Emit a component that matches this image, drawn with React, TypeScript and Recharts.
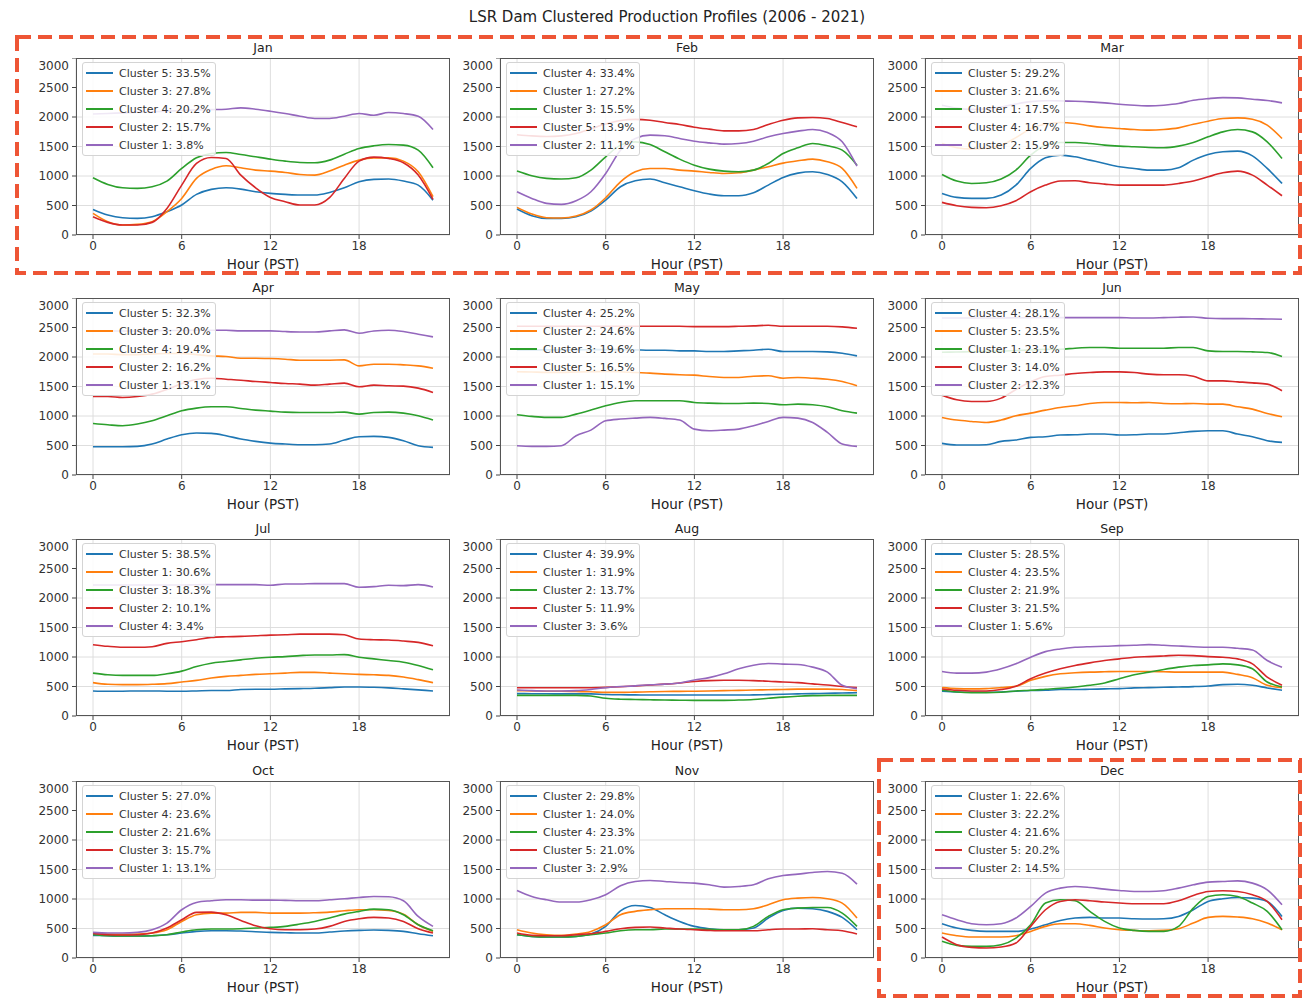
import React from 'react';
import { LineChart, Line, XAxis, YAxis, CartesianGrid } from 'recharts';

const hours = [0, 1, 2, 3, 4, 5, 6, 7, 8, 9, 10, 11, 12, 13, 14, 15, 16, 17, 18, 19, 20, 21, 22, 23];
const xTicks = [0, 6, 12, 18];
const yTicks = [0, 500, 1000, 1500, 2000, 2500, 3000];
const colors = ['#1f77b4', '#ff7f0e', '#2ca02c', '#d62728', '#9467bd'];

const janLabels = ['Cluster 5: 33.5%', 'Cluster 3: 27.8%', 'Cluster 4: 20.2%', 'Cluster 2: 15.7%', 'Cluster 1: 3.8%'];
const janSeries = [
  [434, 340, 293, 282, 310, 395, 508, 688, 773, 800, 778, 733, 705, 688, 677, 677, 722, 800, 902, 942, 948, 914, 846, 590],
  [367, 226, 169, 180, 226, 395, 620, 959, 1111, 1173, 1139, 1100, 1083, 1060, 1026, 1015, 1083, 1184, 1269, 1308, 1308, 1252, 1072, 649],
  [970, 857, 800, 790, 818, 914, 1128, 1308, 1382, 1399, 1365, 1325, 1286, 1252, 1229, 1224, 1269, 1370, 1466, 1512, 1534, 1523, 1438, 1139],
  [310, 214, 169, 169, 214, 451, 846, 1213, 1314, 1297, 1015, 800, 637, 564, 508, 508, 632, 959, 1252, 1320, 1297, 1224, 1015, 603],
  [2050, 2060, 2070, 2080, 2090, 2100, 2110, 2120, 2125, 2132, 2155, 2132, 2098, 2059, 2014, 1974, 1974, 2014, 2059, 2030, 2076, 2059, 2014, 1788],
];

const febLabels = ['Cluster 4: 33.4%', 'Cluster 1: 27.2%', 'Cluster 3: 15.5%', 'Cluster 5: 13.9%', 'Cluster 2: 11.1%'];
const febSeries = [
  [440, 327, 282, 282, 310, 406, 592, 818, 919, 948, 885, 818, 750, 694, 665, 665, 716, 846, 976, 1049, 1072, 1026, 902, 620],
  [468, 355, 293, 288, 321, 423, 632, 902, 1072, 1128, 1128, 1100, 1083, 1060, 1043, 1054, 1100, 1156, 1218, 1258, 1286, 1241, 1128, 790],
  [1083, 1004, 959, 948, 970, 1100, 1325, 1523, 1579, 1534, 1410, 1286, 1184, 1117, 1083, 1072, 1100, 1213, 1382, 1478, 1551, 1512, 1438, 1184],
  [1700, 1680, 1670, 1680, 1720, 1800, 1880, 1940, 1960, 1946, 1906, 1873, 1827, 1794, 1765, 1765, 1788, 1873, 1946, 1985, 1991, 1974, 1906, 1833],
  [733, 620, 536, 519, 581, 733, 1043, 1438, 1636, 1692, 1681, 1636, 1590, 1562, 1540, 1551, 1590, 1664, 1720, 1760, 1788, 1737, 1579, 1167],
];

const marLabels = ['Cluster 5: 29.2%', 'Cluster 3: 21.6%', 'Cluster 1: 17.5%', 'Cluster 4: 16.7%', 'Cluster 2: 15.9%'];
const marSeries = [
  [705, 637, 620, 620, 677, 846, 1128, 1308, 1354, 1325, 1269, 1213, 1156, 1128, 1100, 1100, 1139, 1269, 1365, 1410, 1421, 1342, 1128, 874],
  [1550, 1480, 1460, 1470, 1520, 1650, 1800, 1880, 1906, 1890, 1850, 1822, 1805, 1788, 1777, 1788, 1816, 1878, 1929, 1974, 1985, 1963, 1861, 1636],
  [1026, 914, 874, 885, 948, 1100, 1354, 1523, 1568, 1568, 1551, 1523, 1506, 1495, 1483, 1478, 1506, 1568, 1664, 1748, 1788, 1748, 1579, 1297],
  [553, 496, 468, 462, 496, 581, 733, 846, 914, 919, 885, 863, 846, 846, 846, 846, 874, 914, 987, 1054, 1083, 1015, 846, 665],
  [2200, 2150, 2130, 2140, 2170, 2220, 2260, 2275, 2273, 2267, 2256, 2239, 2216, 2200, 2188, 2200, 2228, 2284, 2312, 2329, 2324, 2301, 2279, 2239],
];

const aprLabels = ['Cluster 5: 32.3%', 'Cluster 3: 20.0%', 'Cluster 4: 19.4%', 'Cluster 2: 16.2%', 'Cluster 1: 13.1%'];
const aprSeries = [
  [479, 479, 479, 485, 525, 609, 682, 711, 705, 666, 609, 570, 541, 525, 513, 513, 525, 592, 649, 654, 637, 581, 496, 468],
  [2050, 2050, 2040, 2040, 2050, 2060, 2060, 2040, 2019, 2008, 1980, 1980, 1974, 1963, 1946, 1946, 1946, 1951, 1850, 1878, 1878, 1867, 1850, 1810],
  [874, 852, 835, 863, 919, 1004, 1089, 1134, 1156, 1156, 1128, 1100, 1083, 1066, 1060, 1060, 1060, 1066, 1032, 1060, 1066, 1049, 1004, 931],
  [1331, 1331, 1314, 1331, 1371, 1450, 1550, 1620, 1641, 1624, 1607, 1585, 1568, 1551, 1540, 1523, 1540, 1557, 1495, 1523, 1512, 1506, 1472, 1399],
  [2440, 2440, 2440, 2440, 2445, 2450, 2450, 2453, 2453, 2453, 2442, 2442, 2442, 2431, 2425, 2425, 2442, 2459, 2403, 2442, 2453, 2431, 2386, 2341],
];

const mayLabels = ['Cluster 4: 25.2%', 'Cluster 2: 24.6%', 'Cluster 3: 19.6%', 'Cluster 5: 16.5%', 'Cluster 1: 15.1%'];
const maySeries = [
  [2120, 2120, 2120, 2120, 2120, 2125, 2125, 2125, 2121, 2115, 2115, 2104, 2104, 2093, 2093, 2104, 2115, 2132, 2093, 2093, 2093, 2087, 2064, 2019],
  [1750, 1745, 1740, 1740, 1745, 1750, 1755, 1750, 1737, 1726, 1709, 1698, 1692, 1669, 1653, 1653, 1675, 1681, 1641, 1653, 1641, 1624, 1585, 1512],
  [1021, 993, 976, 976, 1032, 1100, 1173, 1230, 1258, 1258, 1258, 1258, 1230, 1218, 1213, 1213, 1218, 1213, 1190, 1201, 1190, 1156, 1089, 1049],
  [2520, 2520, 2520, 2520, 2520, 2520, 2520, 2520, 2520, 2520, 2520, 2520, 2515, 2515, 2515, 2520, 2527, 2538, 2520, 2520, 2520, 2520, 2510, 2487],
  [496, 485, 485, 496, 666, 761, 919, 948, 964, 976, 959, 931, 778, 750, 761, 778, 835, 908, 976, 964, 891, 722, 525, 485],
];

const junLabels = ['Cluster 4: 28.1%', 'Cluster 5: 23.5%', 'Cluster 1: 23.1%', 'Cluster 3: 14.0%', 'Cluster 2: 12.3%'];
const junSeries = [
  [536, 508, 508, 513, 570, 592, 637, 649, 677, 682, 694, 694, 677, 682, 694, 694, 716, 739, 750, 750, 694, 649, 581, 553],
  [976, 931, 908, 891, 931, 1004, 1049, 1100, 1145, 1173, 1213, 1230, 1230, 1224, 1230, 1213, 1207, 1213, 1201, 1201, 1156, 1117, 1043, 987],
  [2080, 2085, 2090, 2095, 2100, 2110, 2120, 2130, 2132, 2149, 2160, 2160, 2149, 2149, 2149, 2149, 2160, 2160, 2104, 2093, 2093, 2087, 2076, 2008],
  [1354, 1275, 1247, 1247, 1303, 1450, 1580, 1670, 1692, 1720, 1737, 1748, 1748, 1737, 1709, 1698, 1698, 1675, 1596, 1596, 1579, 1562, 1540, 1427],
  [2660, 2660, 2660, 2660, 2660, 2665, 2665, 2668, 2668, 2668, 2668, 2668, 2668, 2662, 2662, 2668, 2675, 2679, 2656, 2650, 2650, 2648, 2645, 2640],
];

const julLabels = ['Cluster 5: 38.5%', 'Cluster 1: 30.6%', 'Cluster 3: 18.3%', 'Cluster 2: 10.1%', 'Cluster 4: 3.4%'];
const julSeries = [
  [425, 420, 420, 425, 425, 420, 420, 425, 431, 431, 448, 453, 453, 459, 464, 470, 481, 492, 492, 487, 476, 459, 442, 425],
  [565, 537, 532, 532, 537, 548, 576, 604, 644, 672, 688, 705, 716, 727, 739, 739, 727, 716, 705, 699, 688, 660, 616, 565],
  [727, 699, 688, 688, 688, 716, 761, 839, 895, 923, 951, 979, 996, 1007, 1024, 1035, 1035, 1041, 996, 968, 940, 912, 856, 783],
  [1209, 1181, 1164, 1164, 1175, 1231, 1259, 1293, 1332, 1343, 1349, 1360, 1371, 1377, 1388, 1388, 1388, 1377, 1304, 1293, 1287, 1270, 1248, 1192],
  [2220, 2220, 2220, 2220, 2220, 2220, 2220, 2225, 2227, 2227, 2227, 2227, 2216, 2238, 2238, 2244, 2244, 2244, 2182, 2193, 2216, 2210, 2227, 2188],
];

const augLabels = ['Cluster 4: 39.9%', 'Cluster 1: 31.9%', 'Cluster 2: 13.7%', 'Cluster 5: 11.9%', 'Cluster 3: 3.6%'];
const augSeries = [
  [380, 378, 376, 375, 375, 375, 365, 360, 358, 355, 355, 355, 355, 355, 355, 355, 358, 362, 368, 375, 380, 385, 390, 395],
  [430, 425, 420, 420, 415, 410, 400, 400, 405, 410, 415, 418, 420, 425, 430, 435, 440, 445, 450, 455, 455, 455, 450, 430],
  [350, 350, 350, 350, 350, 340, 300, 285, 280, 275, 270, 268, 265, 265, 265, 270, 280, 300, 320, 335, 345, 350, 350, 350],
  [480, 478, 478, 478, 478, 480, 485, 495, 510, 525, 540, 560, 585, 600, 605, 605, 600, 590, 575, 565, 545, 525, 500, 480],
  [440, 430, 425, 425, 430, 450, 480, 500, 510, 530, 540, 560, 610, 650, 716, 800, 860, 890, 880, 873, 828, 744, 520, 464],
];

const sepLabels = ['Cluster 5: 28.5%', 'Cluster 4: 23.5%', 'Cluster 2: 21.9%', 'Cluster 3: 21.5%', 'Cluster 1: 5.6%'];
const sepSeries = [
  [420, 408, 403, 403, 408, 420, 431, 436, 448, 448, 453, 459, 464, 476, 481, 487, 492, 498, 509, 532, 537, 520, 476, 436],
  [481, 464, 459, 464, 481, 504, 604, 672, 716, 733, 744, 750, 755, 755, 755, 750, 744, 744, 744, 744, 705, 649, 520, 481],
  [436, 408, 397, 397, 403, 425, 436, 453, 470, 492, 520, 560, 632, 699, 744, 789, 828, 856, 867, 884, 867, 800, 576, 492],
  [459, 436, 425, 425, 448, 504, 632, 727, 800, 856, 901, 940, 968, 996, 1007, 1018, 1030, 1024, 1007, 996, 968, 884, 660, 520],
  [755, 727, 727, 744, 800, 884, 996, 1091, 1136, 1164, 1175, 1181, 1192, 1198, 1209, 1198, 1186, 1175, 1164, 1164, 1147, 1119, 940, 828],
];

const octLabels = ['Cluster 5: 27.0%', 'Cluster 4: 23.6%', 'Cluster 2: 21.6%', 'Cluster 3: 15.7%', 'Cluster 1: 13.1%'];
const octSeries = [
  [384, 378, 372, 372, 378, 395, 423, 451, 462, 462, 457, 446, 434, 429, 423, 423, 440, 457, 468, 474, 468, 451, 412, 378],
  [423, 406, 400, 406, 423, 479, 620, 733, 761, 761, 773, 773, 761, 761, 761, 767, 778, 800, 818, 818, 806, 744, 564, 451],
  [395, 378, 372, 372, 378, 395, 440, 479, 491, 491, 496, 508, 519, 536, 575, 620, 677, 744, 790, 829, 818, 733, 564, 462],
  [417, 395, 389, 395, 423, 508, 649, 773, 778, 733, 637, 547, 496, 479, 479, 491, 536, 620, 665, 688, 677, 620, 496, 423],
  [434, 423, 423, 434, 479, 592, 818, 942, 970, 987, 987, 981, 981, 976, 970, 970, 987, 1004, 1026, 1043, 1038, 970, 705, 536],
];

const novLabels = ['Cluster 2: 29.8%', 'Cluster 1: 24.0%', 'Cluster 4: 23.3%', 'Cluster 5: 21.0%', 'Cluster 3: 2.9%'];
const novSeries = [
  [395, 367, 355, 355, 367, 406, 536, 800, 891, 857, 733, 620, 536, 496, 479, 479, 508, 677, 806, 846, 835, 790, 688, 479],
  [479, 423, 395, 384, 406, 451, 564, 733, 790, 818, 835, 835, 835, 829, 818, 818, 835, 902, 987, 1015, 1026, 1004, 931, 677],
  [395, 367, 355, 355, 367, 395, 423, 462, 479, 479, 491, 491, 491, 485, 479, 479, 536, 705, 818, 846, 857, 857, 761, 536],
  [423, 384, 378, 378, 395, 412, 451, 496, 519, 525, 508, 491, 479, 468, 462, 462, 462, 479, 491, 491, 496, 479, 462, 406],
  [1145, 1043, 987, 948, 948, 987, 1072, 1224, 1297, 1314, 1297, 1280, 1269, 1241, 1201, 1213, 1241, 1342, 1399, 1421, 1450, 1466, 1438, 1252],
];

const decLabels = ['Cluster 1: 22.6%', 'Cluster 3: 22.2%', 'Cluster 4: 21.6%', 'Cluster 5: 20.2%', 'Cluster 2: 14.5%'];
const decSeries = [
  [581, 508, 468, 451, 451, 451, 491, 564, 637, 677, 688, 677, 677, 665, 660, 665, 705, 818, 959, 1004, 1026, 1015, 959, 705],
  [423, 378, 355, 355, 355, 378, 451, 536, 581, 581, 553, 508, 479, 468, 462, 468, 496, 592, 688, 705, 694, 665, 592, 479],
  [282, 214, 197, 197, 226, 338, 564, 931, 987, 970, 790, 620, 508, 468, 451, 451, 536, 846, 1043, 1072, 1043, 931, 790, 479],
  [355, 226, 180, 169, 186, 254, 536, 818, 959, 987, 970, 948, 931, 919, 919, 919, 970, 1060, 1128, 1139, 1128, 1072, 959, 649],
  [733, 649, 581, 564, 581, 677, 874, 1100, 1184, 1213, 1196, 1167, 1145, 1128, 1128, 1139, 1184, 1241, 1286, 1297, 1308, 1269, 1156, 902],
];

const months = ['Jan', 'Feb', 'Mar', 'Apr', 'May', 'Jun', 'Jul', 'Aug', 'Sep', 'Oct', 'Nov', 'Dec'];
const allLabels = [janLabels, febLabels, marLabels, aprLabels, mayLabels, junLabels, julLabels, augLabels, sepLabels, octLabels, novLabels, decLabels];
const allSeries = [janSeries, febSeries, marSeries, aprSeries, maySeries, junSeries, julSeries, augSeries, sepSeries, octSeries, novSeries, decSeries];

const FONT = '"DejaVu Sans", Verdana, sans-serif';
const colLeft = [76, 500, 925];
const rowTop = [58, 298, 539, 781];
const plotW = 374;
const plotH = 177;
const yAxisW = 60;
const xAxisH = 45;

function Panel({ title, labels, series, left, top }: { title: string; labels: string[]; series: number[][]; left: number; top: number }) {
  const rows = hours.map((h, i) => {
    const r: Record<string, number> = { hour: h };
    series.forEach((s, k) => { r['s' + k] = s[i]; });
    return r;
  });
  return (
    <>
      <div style={{ position: 'absolute', left: left - yAxisW, top }}>
        <LineChart width={plotW + yAxisW} height={plotH + xAxisH} data={rows} margin={{ top: 0, right: 0, bottom: 0, left: 0 }}>
          <CartesianGrid stroke="#dadada" strokeWidth={0.9} />
          <XAxis
            type="number"
            dataKey="hour"
            domain={[-1.15, 24.15]}
            ticks={xTicks}
            height={xAxisH}
            axisLine={false}
            tickSize={4}
            tickMargin={2}
            tickLine={{ stroke: '#444' }}
            tick={{ fontSize: 12, fill: '#333', fontFamily: FONT }}
            allowDataOverflow
          />
          <YAxis
            domain={[0, 3000]}
            ticks={yTicks}
            width={yAxisW}
            axisLine={false}
            tickSize={4}
            tickMargin={3}
            tickLine={{ stroke: '#444' }}
            tick={{ fontSize: 12, fill: '#333', fontFamily: FONT }}
            allowDataOverflow
          />
          {series.map((_, k) => (
            <Line
              key={k}
              type="monotone"
              dataKey={'s' + k}
              stroke={colors[k]}
              strokeWidth={1.6}
              dot={false}
              isAnimationActive={false}
            />
          ))}
        </LineChart>
      </div>
      <div style={{ position: 'absolute', left, top, width: plotW, height: plotH, border: '1px solid #555', boxSizing: 'border-box', pointerEvents: 'none' }} />
      <div style={{ position: 'absolute', left, top: top - 18, width: plotW, textAlign: 'center', fontFamily: FONT, fontSize: 12.5, color: '#222', lineHeight: '15px' }}>{title}</div>
      <div style={{ position: 'absolute', left, top: top + plotH + 21, width: plotW, textAlign: 'center', fontFamily: FONT, fontSize: 13.5, color: '#222', lineHeight: '16px' }}>Hour (PST)</div>
      <div style={{ position: 'absolute', left: left + 6, top: top + 4, padding: '1px 4px 1px 3px', background: 'rgba(255,255,255,0.85)', border: '1px solid #d4d4d4', borderRadius: 3, fontFamily: FONT, fontSize: 11, color: '#333' }}>
        {labels.map((lab, k) => (
          <div key={k} style={{ display: 'flex', alignItems: 'center', height: 18 }}>
            <span style={{ display: 'inline-block', width: 27, height: 2, background: colors[k], marginRight: 6 }} />
            <span>{lab}</span>
          </div>
        ))}
      </div>
    </>
  );
}

export default function App() {
  return (
    <div style={{ position: 'absolute', left: 0, top: 0, width: 1303, height: 1000, background: '#fff', overflow: 'hidden' }}>
      <div style={{ position: 'absolute', left: 0, top: 8, width: 1334, textAlign: 'center', fontFamily: FONT, fontSize: 15, color: '#222', lineHeight: '18px' }}>
        LSR Dam Clustered Production Profiles (2006 - 2021)
      </div>
      {months.map((m, i) => (
        <Panel
          key={m}
          title={m}
          labels={allLabels[i]}
          series={allSeries[i]}
          left={colLeft[i % 3]}
          top={rowTop[Math.floor(i / 3)]}
        />
      ))}
      <svg width={1303} height={1000} style={{ position: 'absolute', left: 0, top: 0, pointerEvents: 'none' }}>
        <rect x={17} y={37} width={1283} height={236} fill="none" stroke="#ee5535" strokeWidth={4} strokeDasharray="14 7" />
        <rect x={879} y={760} width={421} height={236} fill="none" stroke="#ee5535" strokeWidth={4} strokeDasharray="14 7" />
      </svg>
    </div>
  );
}
